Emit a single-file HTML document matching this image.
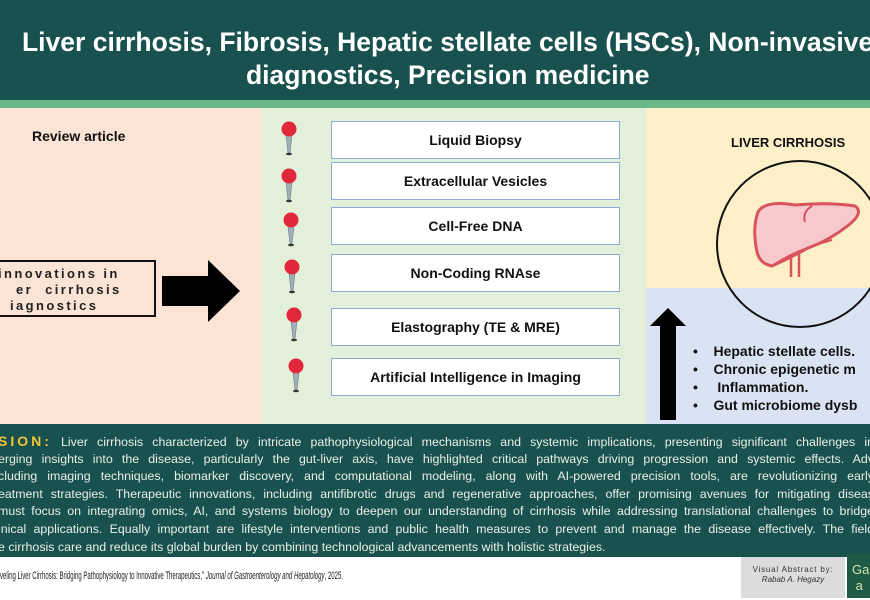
<!DOCTYPE html>
<html><head><style>
*{margin:0;padding:0;box-sizing:border-box}
body{width:870px;height:600px;overflow:hidden;position:relative;background:#fff;font-family:"Liberation Sans",Arial,sans-serif}
.a{position:absolute}
.box{position:absolute;left:331px;width:289px;height:38px;background:#fff;border:1.5px solid #8eaadb;font-weight:bold;font-size:14px;color:#111;display:flex;align-items:center;justify-content:center}
.ct{position:absolute;left:-2px;top:433px;width:876px;font-size:12.4px;line-height:17.6px;color:#e8efe9;white-space:nowrap}
.ct div{text-align:justify;text-align-last:justify;white-space:normal;height:17.6px;overflow:hidden}
</style></head><body>
<div class="a" style="left:0;top:0;width:870px;height:100px;background:#19514f"></div>
<div class="a" style="left:0;top:100px;width:870px;height:8px;background:#6ab887"></div>
<div class="a" style="left:22px;top:26px;color:#fff;font-weight:bold;font-size:26.5px;line-height:33px;white-space:nowrap">Liver cirrhosis, Fibrosis, Hepatic stellate cells (HSCs), Non-invasive<br><span style="padding-left:224px">diagnostics, Precision medicine</span></div>
<div class="a" style="left:0;top:108px;width:261px;height:316px;background:#fbe4d6"></div>
<div class="a" style="left:261px;top:108px;width:385px;height:316px;background:#e2efd9"></div>
<div class="a" style="left:646px;top:108px;width:224px;height:180px;background:#fdf0c9"></div>
<div class="a" style="left:646px;top:288px;width:224px;height:136px;background:#dae3f3"></div>
<div class="a" style="left:32px;top:128px;font-weight:bold;font-size:14px;color:#111">Review article</div>
<div class="a" style="left:-10px;top:260px;width:166px;height:57px;border:2px solid #111;font-weight:bold;font-size:13px;letter-spacing:2.4px;line-height:16px;padding-top:4px;color:#222;white-space:nowrap">&nbsp;innovations in<br>&nbsp;&nbsp;&nbsp;&nbsp;er&nbsp; cirrhosis<br>&nbsp;&nbsp;&nbsp;iagnostics</div>
<svg class="a" style="left:160px;top:258px" width="84" height="66"><polygon points="2,18 48,18 48,2 80,33 48,64 48,48 2,48" fill="#000"/></svg>
<div class="box" style="top:121px">Liquid Biopsy</div>
<div class="box" style="top:162px">Extracellular Vesicles</div>
<div class="box" style="top:207px">Cell-Free DNA</div>
<div class="box" style="top:254px">Non-Coding RNAse</div>
<div class="box" style="top:308px">Elastography (TE &amp; MRE)</div>
<div class="box" style="top:358px">Artificial Intelligence in Imaging</div>
<svg class="a" style="left:0;top:0" width="870" height="600">
<defs><g id="p"><path d="M-3,6 L3,6 L1,24 L-1,24Z" fill="#9fb0ba" stroke="#6c7b84" stroke-width="0.6"/><ellipse cx="0" cy="25" rx="3" ry="1.2" fill="#333"/><circle cx="0" cy="0" r="7.5" fill="#e0283a"/></g></defs>
<use href="#p" x="289" y="129"/><use href="#p" x="289" y="176"/><use href="#p" x="291" y="220"/><use href="#p" x="292" y="267"/><use href="#p" x="294" y="315"/><use href="#p" x="296" y="366"/>
<circle cx="800" cy="244" r="83" fill="none" stroke="#111" stroke-width="2"/>
<path d="M758,212 Q765,200 795,205 Q830,202 855,206 Q864,212 850,224 Q830,240 808,248 Q790,258 772,266 Q760,264 757,252 Q752,228 758,212Z" fill="#f7c9cc" stroke="#d9535c" stroke-width="3"/>
<path d="M772,266 Q795,250 832,240" fill="none" stroke="#d9535c" stroke-width="2"/>
<path d="M812,206 Q802,212 805,222" fill="none" stroke="#d9535c" stroke-width="2"/>
<path d="M791,254 V277 M799,254 V277" stroke="#d9535c" stroke-width="2.5"/>
<polygon points="668,308 686,326 676,326 676,420 660,420 660,326 650,326" fill="#000"/>
</svg>
<div class="a" style="left:731px;top:135px;font-weight:bold;font-size:13px;color:#111;white-space:nowrap">LIVER CIRRHOSIS</div>
<div class="a" style="left:693px;top:342px;font-weight:bold;font-size:14px;line-height:18px;color:#111;white-space:nowrap">
<div>•&nbsp;&nbsp;&nbsp;&nbsp;Hepatic stellate cells.</div><div>•&nbsp;&nbsp;&nbsp;&nbsp;Chronic epigenetic m</div><div>•&nbsp;&nbsp;&nbsp;&nbsp;&nbsp;Inflammation.</div><div>•&nbsp;&nbsp;&nbsp;&nbsp;Gut microbiome dysb</div></div>
<div class="a" style="left:0;top:424px;width:870px;height:133px;background:#19514f"></div>
<div class="ct">
<div><span style="color:#f2c534;font-weight:bold;font-size:14px;letter-spacing:3px">SION:</span> Liver cirrhosis characterized by intricate pathophysiological mechanisms and systemic implications, presenting significant challenges in</div>
<div>erging insights into the disease, particularly the gut-liver axis, have highlighted critical pathways driving progression and systemic effects. Adv</div>
<div>cluding imaging techniques, biomarker discovery, and computational modeling, along with AI-powered precision tools, are revolutionizing early</div>
<div>eatment strategies. Therapeutic innovations, including antifibrotic drugs and regenerative approaches, offer promising avenues for mitigating diseas</div>
<div>must focus on integrating omics, AI, and systems biology to deepen our understanding of cirrhosis while addressing translational challenges to bridge</div>
<div>inical applications. Equally important are lifestyle interventions and public health measures to prevent and manage the disease effectively. The field</div>
<div style="text-align-last:left">e cirrhosis care and reduce its global burden by combining technological advancements with holistic strategies.</div>
</div>
<div class="a" style="left:0;top:570px;font-size:11px;color:#222;white-space:nowrap;transform:scaleX(0.55);transform-origin:0 0">veling Liver Cirrhosis: Bridging Pathophysiology to Innovative Therapeutics," <i>Journal of Gastroenterology and Hepatology</i>, 2025.</div>
<div class="a" style="left:741px;top:557px;width:104px;height:41px;background:#dcdcdc;font-size:8px;text-align:center;padding-top:8px;color:#333;line-height:10px;letter-spacing:0.8px">Visual Abstract by:<br><i style="letter-spacing:0">Rabab A. Hegazy</i></div>
<div class="a" style="left:847px;top:554px;width:23px;height:44px;background:#1e5a44;color:#cfe3b0;font-size:13px;padding:8px 0 0 5px;line-height:16px">Ga<br>&nbsp;a</div>
</body></html>
